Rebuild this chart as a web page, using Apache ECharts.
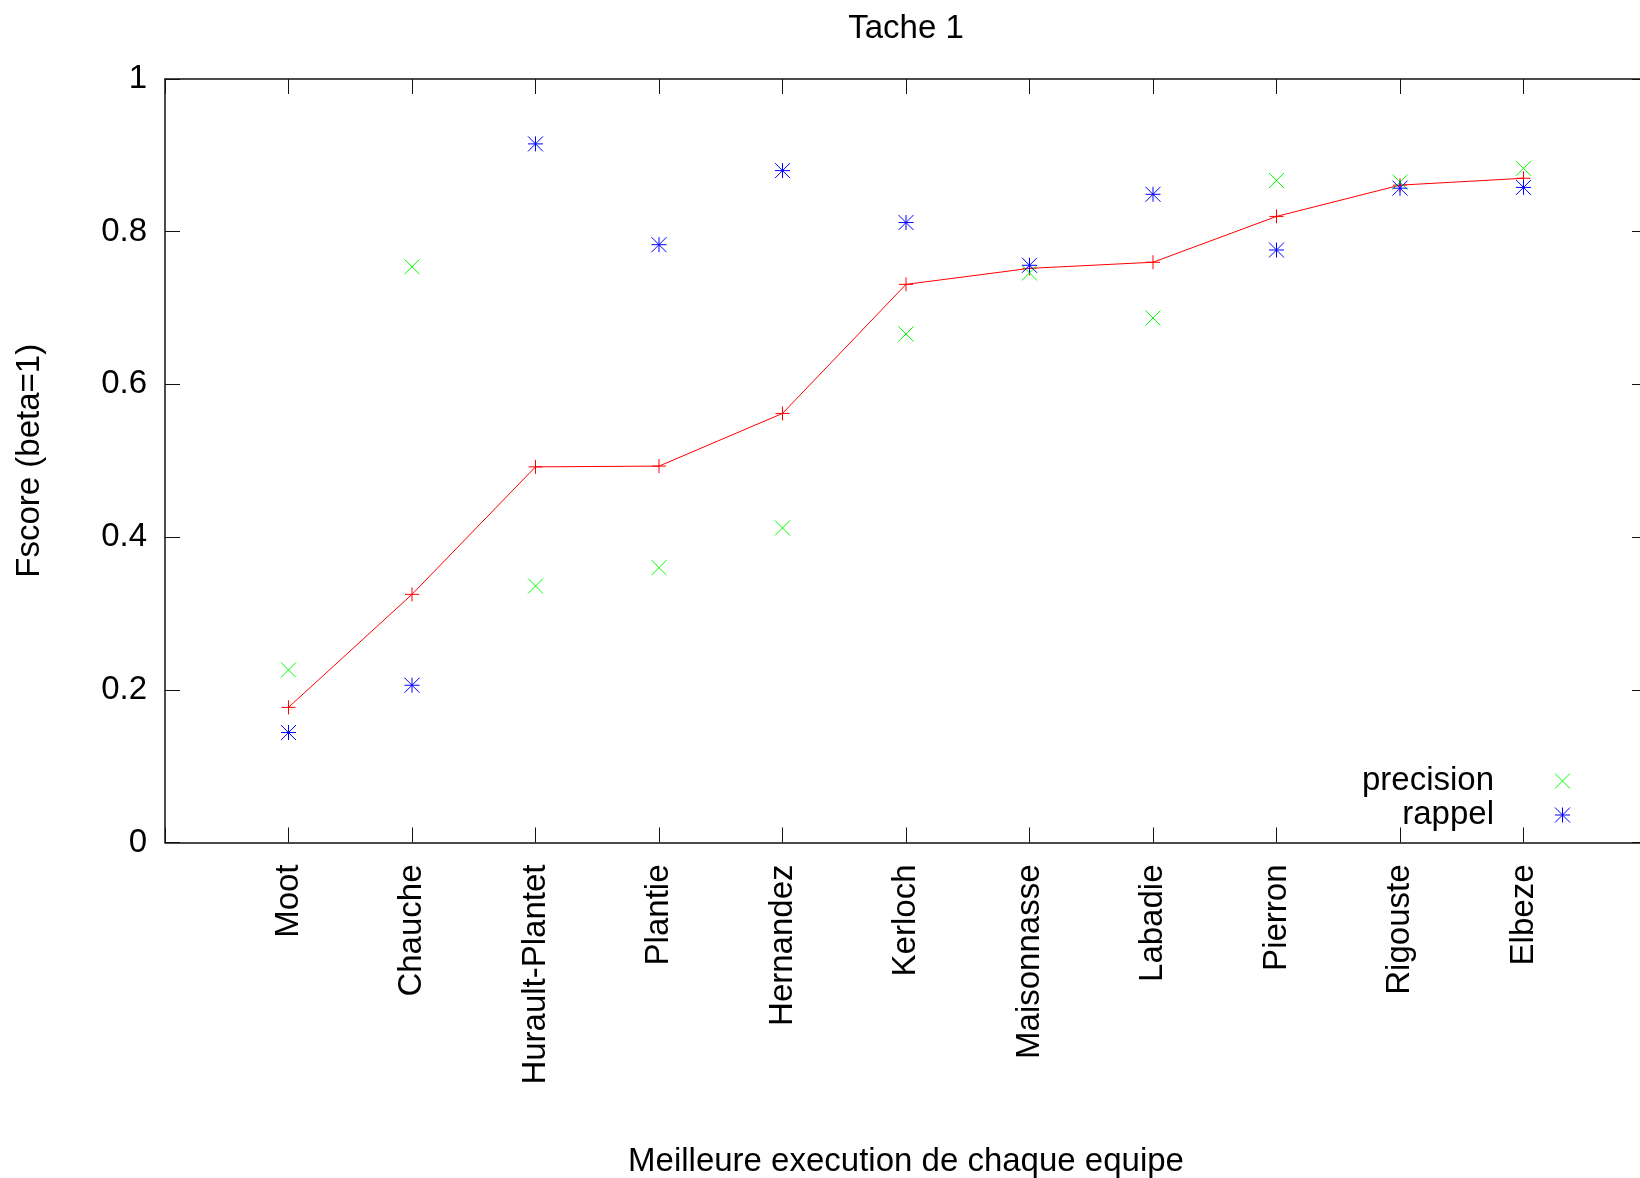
<!DOCTYPE html>
<html>
<head>
<meta charset="utf-8">
<script src="https://cdn.jsdelivr.net/npm/echarts@6/dist/echarts.min.js"></script>
<style>
html,body{margin:0;padding:0;background:#fff;}
#chart{width:1640px;height:1178px;}
</style>
</head>
<body>
<div id="chart"></div>
<script>
var teams = ['Moot','Chauche','Hurault-Plantet','Plantie','Hernandez','Kerloch','Maisonnasse','Labadie','Pierron','Rigouste','Elbeze'];
var fscore = [0.177, 0.325, 0.492, 0.493, 0.562, 0.731, 0.752, 0.760, 0.820, 0.861, 0.870];
var precision = [0.226, 0.754, 0.336, 0.360, 0.412, 0.666, 0.746, 0.687, 0.867, 0.865, 0.883];
var rappel = [0.144, 0.206, 0.915, 0.783, 0.880, 0.812, 0.756, 0.849, 0.776, 0.857, 0.858];
var yTicks = [0, 0.2, 0.4, 0.6, 0.8, 1];

var FONT = 'Liberation Sans';
var FS = 33;
var SYM_X = 'path://M0,0L10,10M0,10L10,0';
var SYM_STAR = 'path://M0,0L10,10M0,10L10,0M5,0L5,10M0,5L10,5';
var SYM_PLUS = 'path://M0,5L10,5M5,0L5,10';

function pairs(arr){ return arr.map(function(v,i){ return [i+1, v]; }); }

var chart = echarts.init(document.getElementById('chart'), null, {renderer:'canvas'});
var axisLineStyle = {color:'#111', width:1.5};
var tickStyle = {color:'#111', width:1};

chart.setOption({
  animation:false,
  backgroundColor:'#fff',
  textStyle:{fontFamily:FONT},
  title:{
    text:'Tache 1', left:906, top:12, textAlign:'center', padding:0,
    textStyle:{fontFamily:FONT, fontSize:FS, fontWeight:'normal', color:'#000'}
  },
  grid:{left:165, top:79, width:1482, height:763.5, containLabel:false, outerBoundsMode:'none'},
  legend:{
    orient:'vertical', align:'right', right:69.5, top:764, padding:0, itemGap:0,
    itemWidth:127, itemHeight:15, symbolKeepAspect:true,
    textStyle:{fontFamily:FONT, fontSize:FS, color:'#000', lineHeight:34},
    data:[
      {name:'precision', icon:SYM_X, itemStyle:{color:'rgba(0,0,0,0)', borderColor:'#00ff00', borderWidth:1}},
      {name:'rappel', icon:SYM_STAR, itemStyle:{color:'rgba(0,0,0,0)', borderColor:'#0000ff', borderWidth:1}}
    ]
  },
  xAxis:[{
    type:'value', min:0, max:12, interval:1, position:'bottom',
    name:'Meilleure execution de chaque equipe', nameLocation:'middle', nameGap:303,
    nameTextStyle:{fontFamily:FONT, fontSize:FS, color:'#000'},
    axisLine:{show:true, onZero:false, lineStyle:axisLineStyle},
    axisTick:{show:true, inside:true, length:15, lineStyle:tickStyle},
    axisLabel:{show:true, rotate:90, margin:22, fontFamily:FONT, fontSize:FS, color:'#000',
      formatter:function(v){ var i=Math.round(v)-1; return (i>=0 && i<teams.length)? teams[i] : ''; }},
    splitLine:{show:false}
  },{
    type:'value', min:0, max:12, interval:1, position:'top',
    axisLine:{show:true, onZero:false, lineStyle:axisLineStyle},
    axisTick:{show:true, inside:true, length:15, lineStyle:tickStyle},
    axisLabel:{show:false}, splitLine:{show:false}
  }],
  yAxis:[{
    type:'value', min:0, max:1, interval:0.2, position:'left',
    name:'Fscore (beta=1)', nameLocation:'middle', nameGap:119, nameRotate:90,
    nameTextStyle:{fontFamily:FONT, fontSize:FS, color:'#000'},
    axisLine:{show:true, onZero:false, lineStyle:axisLineStyle},
    axisTick:{show:true, inside:false, length:-15, lineStyle:tickStyle},
    axisLabel:{show:true, margin:18, fontFamily:FONT, fontSize:FS, color:'#000',
      formatter:function(v){ var t = yTicks.filter(function(x){return Math.abs(x-v)<1e-9;}); return t.length? String(t[0]) : ''; }},
    splitLine:{show:false}
  },{
    type:'value', min:0, max:1, interval:0.2, position:'right',
    axisLine:{show:true, onZero:false, lineStyle:axisLineStyle},
    axisTick:{show:true, inside:true, length:15, lineStyle:tickStyle},
    axisLabel:{show:false}, splitLine:{show:false}
  }],
  series:[
    {
      name:'Fscore', type:'line', xAxisIndex:0, yAxisIndex:0,
      data:pairs(fscore), symbol:SYM_PLUS, symbolSize:14, showSymbol:true,
      lineStyle:{color:'#ff0000', width:1},
      itemStyle:{color:'#ff0000', borderColor:'#ff0000', borderWidth:1},
      z:2
    },
    {
      name:'precision', type:'scatter', xAxisIndex:0, yAxisIndex:0,
      data:pairs(precision), symbol:SYM_X, symbolSize:15, symbolKeepAspect:true,
      itemStyle:{color:'rgba(0,0,0,0)', borderColor:'#00ff00', borderWidth:1, opacity:1},
      z:3
    },
    {
      name:'rappel', type:'scatter', xAxisIndex:0, yAxisIndex:0,
      data:pairs(rappel), symbol:SYM_STAR, symbolSize:15, symbolKeepAspect:true,
      itemStyle:{color:'rgba(0,0,0,0)', borderColor:'#0000ff', borderWidth:1, opacity:1},
      z:4
    }
  ]
});
</script>
</body>
</html>
